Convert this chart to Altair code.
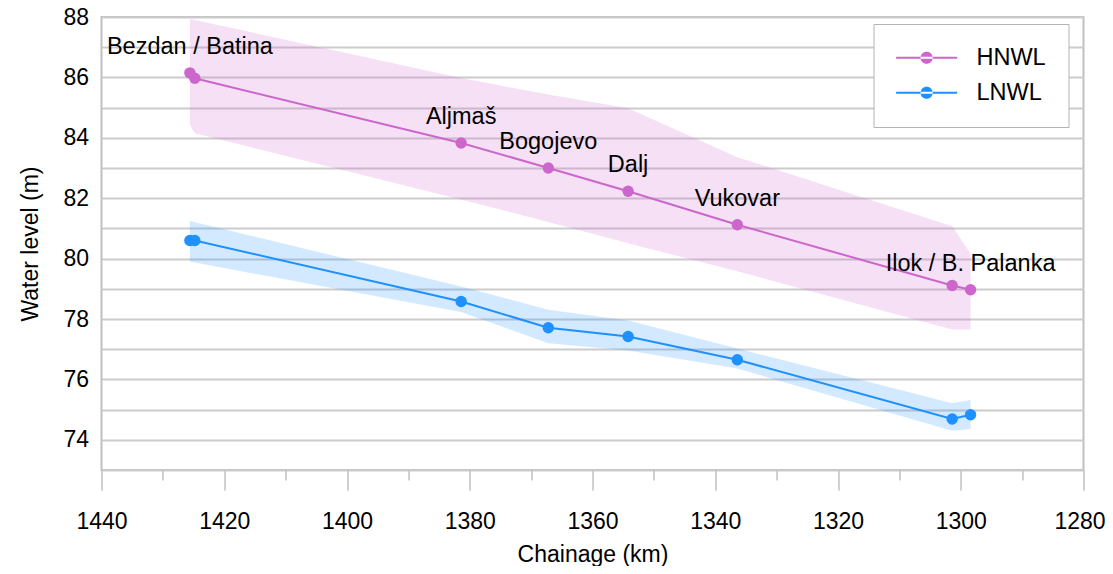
import altair as alt
import pandas as pd

# ---- data ----
km = [1425.6, 1424.8, 1381.4, 1367.2, 1354.2, 1336.4, 1301.4, 1298.4]
station = ["Bezdan / Batina", "", "Aljmaš", "Bogojevo", "Dalj", "Vukovar", "", "Ilok / B. Palanka"]

hnwl = [86.15, 85.97, 83.83, 83.00, 82.23, 81.12, 79.11, 78.97]
hnwl_upper = [87.93, 87.90, 85.98, 85.43, 84.98, 83.36, 81.07, 80.17]
hnwl_lower = [84.42, 84.15, 81.96, 81.21, 80.51, 79.58, 77.65, 77.65]

lnwl = [80.60, 80.60, 78.58, 77.71, 77.42, 76.65, 74.69, 74.83]
lnwl_upper = [81.25, 81.20, 79.08, 78.31, 77.95, 77.02, 75.21, 75.32]
lnwl_lower = [79.90, 79.87, 78.23, 77.20, 76.96, 76.36, 74.30, 74.36]

series_names = ["HNWL", "LNWL"]
series_colors = ["#cc66cc", "#1e90ff"]

x_ticks = list(range(1280, 1441, 10))
y_ticks = list(range(73, 89))

# ---- tables ----
rows = []
for name, vals, up, lo in [("HNWL", hnwl, hnwl_upper, hnwl_lower),
                           ("LNWL", lnwl, lnwl_upper, lnwl_lower)]:
    for k, v, u, l in zip(km, vals, up, lo):
        rows.append({"series": name, "km": k, "value": v, "upper": u, "lower": l})
df = pd.DataFrame(rows)

labels = pd.DataFrame({"km": km, "value": hnwl, "name": station})
labels = labels[labels["name"] != ""]

FONT = "Liberation Sans"
FS = 23
FS_TXT = 23.5

xscale = alt.Scale(domain=[1280, 1440], reverse=True, nice=False, zero=False)
yscale = alt.Scale(domain=[73, 88], nice=False, zero=False)

xaxis = alt.Axis(
    values=x_ticks,
    labelExpr="datum.value % 20 === 0 ? datum.label : ''",
    format="d",
    grid=False,
    domain=False,
    tickColor="#c0c0c0",
    tickWidth=1.5,
    tickSize={"condition": {"test": "datum.value % 20 === 0", "value": 20}, "value": 10},
    labelOffset={"condition": {"test": "datum.value === 1280", "value": -4}, "value": 0},
    labelFont=FONT, labelFontSize=FS, labelColor="black", labelPadding=20,
    labelFlush=False, labelOverlap=False,
    title="Chainage (km)", titleFont=FONT, titleFontSize=FS,
    titleFontWeight="normal", titleColor="black", titlePadding=10,
)
yaxis = alt.Axis(
    values=y_ticks, tickCount=40, format="d",
    labelExpr="datum.value % 2 === 0 ? datum.label : ''",
    grid=True, gridColor="#cccccc", gridWidth=2,
    domain=False, ticks=False,
    labelFont=FONT, labelFontSize=FS, labelColor="black", labelPadding=13,
    labelOverlap=False,
    title="Water level (m)", titleFont=FONT, titleFontSize=FS,
    titleFontWeight="normal", titleColor="black", titlePadding=20,
)

base = alt.Chart(df)

band = base.mark_area(fillOpacity=0.2, interpolate="linear").encode(
    x=alt.X("km:Q", scale=xscale, axis=xaxis),
    y=alt.Y("lower:Q", scale=yscale, axis=yaxis),
    y2="upper:Q",
    fill=alt.Fill("series:N", scale=alt.Scale(range=series_colors), legend=None),
)

line = base.mark_line(strokeWidth=2).encode(
    x="km:Q",
    y="value:Q",
    stroke=alt.Stroke("series:N", scale=alt.Scale(range=series_colors), legend=None),
)

# legend glyph: a short line with a dot in the middle (unit = dot radius)
sym = ("M-5,-0.164H5V0.164H-5Z "
       "M-1,0A1,1,0,1,0,1,0A1,1,0,1,0,-1,0Z")

pts = base.mark_circle(size=130, opacity=1).encode(
    x="km:Q",
    y="value:Q",
    color=alt.Color(
        "series:N", scale=alt.Scale(domain=series_names, range=series_colors),
        legend=alt.Legend(
            title=None, orient="none", legendX=772, legendY=7,
            symbolType=sym, symbolSize=149, symbolStrokeWidth=0,
            symbolOpacity=1, symbolOffset=19.4,
            labelFont=FONT, labelFontSize=FS_TXT, labelColor="black",
            labelOffset=38.1, rowPadding=10, padding=22,
            fillColor="white", strokeColor="#b4b4b4",
        ),
    ),
)

text = alt.Chart(labels).mark_text(
    dy=-26, fontSize=FS_TXT, font=FONT, color="black", align="center", baseline="middle"
).encode(x="km:Q", y="value:Q", text="name:N")

chart = alt.layer(band, line, pts, text).properties(
    width=982, height=453,
    autosize=alt.AutoSizeParams(type="none"),
    padding={"left": 93.5, "top": 9, "right": 21, "bottom": 96},
).configure_view(stroke="#c0c0c0", strokeWidth=2)

chart.save("out.html", embed_options={"renderer": "svg", "actions": False})
